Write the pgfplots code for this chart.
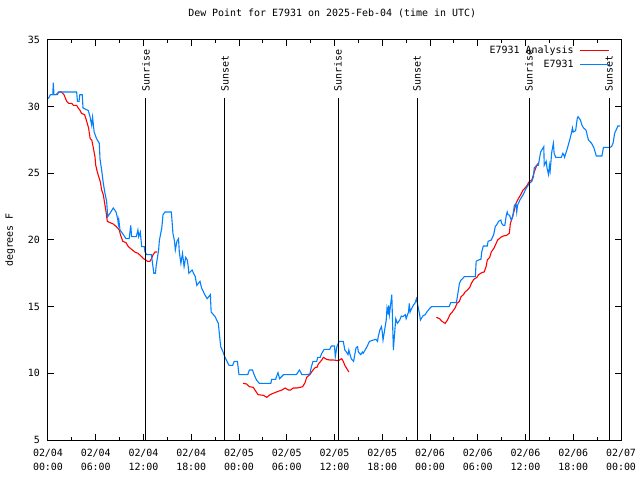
\documentclass[border=0pt]{standalone}
\usepackage{fontspec}
\setmainfont{DejaVu Sans Mono}
\usepackage{pgfplots}
\pgfplotsset{compat=1.18}
\definecolor{anared}{RGB}{255,0,0}
\definecolor{obsblue}{RGB}{0,128,255}

\begin{document}
\fontsize{10}{12}\selectfont
\begin{tikzpicture}
\useasboundingbox (-48bp,-40bp) rectangle (592bp,440bp);
\begin{axis}[
    at={(0,0)}, anchor=south west,
    scale only axis, width=573bp, height=400bp,
    xmin=0, xmax=72, ymin=5, ymax=35,
    unbounded coords=jump,
    xtick={0,6,...,72}, minor x tick num=1,
    ytick={5,10,...,35},
    xticklabels={{02/04\\00:00},{02/04\\06:00},{02/04\\12:00},{02/04\\18:00},
                 {02/05\\00:00},{02/05\\06:00},{02/05\\12:00},{02/05\\18:00},
                 {02/06\\00:00},{02/06\\06:00},{02/06\\12:00},{02/06\\18:00},
                 {02/07\\00:00}},
    xticklabel style={align=center, anchor=north, inner sep=0pt, yshift=-9bp,
                      font=\fontsize{10}{14}\selectfont},
    yticklabel style={anchor=east, inner sep=0pt, xshift=-8bp},
    /pgf/number format/assume math mode=true,
    major tick length=6bp, minor tick length=3bp,
    axis line style={line width=1bp},
    every tick/.style={black, line width=1bp},
    title={Dew Point for E7931 on 2025-Feb-04 (time in UTC)},
    title style={at={(axis description cs:0.496,1)}, anchor=center, yshift=21bp, inner sep=0pt},
    ylabel={degrees F},
    every axis y label/.style={at={(axis description cs:-0.066,0.5)}, anchor=center, rotate=90, inner sep=0pt},
    legend style={at={(axis description cs:0.980,0.990)}, anchor=north east,
                  draw=none, fill=none, inner sep=0pt, row sep=1bp, column sep=4bp},
    legend cell align=right, legend plot pos=right,
    legend image code/.code={\draw[mark repeat=2,mark phase=2,#1]
        plot coordinates {(0bp,0bp) (14.3bp,0bp) (28.6bp,0bp)};},
]

% analysis (three segments)
\addplot[anared, line width=1.1bp] coordinates {
 (0.3,30.9) (1.0,30.9) (1.2,31.0) (1.42,31.1) (1.7,31.1) (2.0,30.9) (2.35,30.4) (2.6,30.25)
 (2.97,30.25) (3.2,30.1) (3.6,30.1) (3.8,29.9) (4.0,29.75) (4.2,29.5) (4.6,29.4) (4.86,28.9)
 (5.1,28.4) (5.3,27.6) (5.5,27.5) (5.7,26.9) (5.9,26.25) (6.0,25.6) (6.2,25.1) (6.45,24.6)
 (6.6,24.3) (6.74,23.75) (6.95,23.4) (7.08,22.9) (7.3,22.1) (7.45,21.4) (7.8,21.3) (8.2,21.2)
 (8.6,21.0) (8.96,20.75) (9.1,20.4) (9.4,19.9) (9.8,19.8) (10.1,19.5) (10.5,19.3) (10.9,19.1)
 (11.3,19.0) (11.77,18.75) (12.0,18.6) (12.3,18.5) (12.5,18.4) (12.8,18.4) (13.0,18.6)
 (13.2,18.9) (13.45,19.1) (13.7,19.1)
 (13.8,nan)
 (24.5,9.25) (24.96,9.2) (25.3,9.0) (25.8,8.95) (26.0,8.75) (26.4,8.4) (27.06,8.35) (27.5,8.2)
 (27.9,8.4) (28.3,8.5) (28.7,8.6) (29.4,8.75) (29.8,8.9) (30.2,8.75) (30.5,8.75) (30.8,8.9)
 (31.25,8.9) (31.7,8.95) (32.0,9.0) (32.3,9.3) (32.5,9.7) (32.9,9.9) (33.3,10.25) (33.6,10.45)
 (33.8,10.45) (33.97,10.7) (34.4,11.0) (34.6,11.2) (35.0,11.05) (35.4,11.0) (35.85,11.0)
 (36.5,10.95) (36.9,11.1) (37.1,10.9) (37.3,10.6) (37.5,10.4) (37.8,10.1)
 (38.0,nan)
 (48.8,14.2) (49.2,14.1) (49.5,13.9) (49.9,13.75) (50.2,14.0) (50.5,14.4) (50.8,14.6)
 (51.15,14.9) (51.4,15.25) (51.7,15.4) (51.9,15.75) (52.2,15.9) (52.4,16.1) (52.7,16.25)
 (53.0,16.45) (53.2,16.75) (53.5,17.05) (53.9,17.2) (54.1,17.4) (54.5,17.55) (54.8,17.6)
 (55.05,18.0) (55.2,18.5) (55.5,18.7) (55.7,19.1) (56.05,19.4) (56.2,19.6) (56.5,20.0)
 (56.7,20.1) (56.9,20.2) (57.2,20.3) (57.6,20.35) (57.97,20.5) (58.1,21.25) (58.3,21.6)
 (58.6,22.25) (58.8,22.75) (59.1,23.1) (59.4,23.4) (59.7,23.75) (60.1,24.0) (60.5,24.4)
 (60.8,24.5) (61.1,25.1) (61.35,25.5) (61.5,25.7) (61.7,25.7)
};
\addlegendentry{E7931 Analysis}

% observations
\addplot[obsblue, line width=1.1bp] coordinates {
 (0.04,30.6) (0.3,30.9) (0.6,30.9) (0.67,31.8) (0.75,30.9) (1.2,30.9) (1.3,31.1) (3.6,31.1)
 (3.7,30.4) (3.9,30.4) (4.0,30.9) (4.3,30.9) (4.4,29.9) (5.07,29.7) (5.28,29.25) (5.49,28.6)
 (5.6,29.2) (5.8,28.1) (6.1,27.6) (6.45,27.25) (6.53,26.1) (6.74,25.25) (6.95,24.25) (7.16,23.5)
 (7.37,22.9) (7.5,21.75) (7.79,22.0) (8.2,22.4) (8.55,22.1) (8.75,21.6) (8.84,21.2) (8.9,21.5)
 (9.05,20.75) (9.47,20.4) (9.8,20.1) (10.2,20.1) (10.4,21.1) (10.5,20.25) (11.1,20.25)
 (11.3,20.75) (11.4,20.25) (11.6,20.6) (11.77,19.5) (12.1,19.5) (12.19,19.1) (12.4,18.9)
 (13.0,18.9) (13.1,18.4) (13.3,17.5) (13.5,17.5) (13.6,18.1) (13.9,19.25) (14.0,20.0)
 (14.3,20.9) (14.45,21.9) (14.7,22.1) (15.5,22.1) (15.7,20.5) (15.9,19.9) (16.0,19.25)
 (16.2,19.9) (16.4,20.1) (16.5,19.1) (16.7,18.25) (16.9,19.0) (17.1,18.0) (17.3,18.7)
 (17.5,18.5) (17.6,18.1) (17.7,17.5) (18.1,17.75) (18.5,17.25) (18.7,16.6) (19.1,16.9)
 (19.3,16.4) (19.7,15.9) (20.0,15.6) (20.4,15.9) (20.5,14.6) (21.0,14.25) (21.4,13.75)
 (21.7,12.0) (22.0,11.6) (22.2,11.25) (22.4,11.0) (22.75,10.6) (23.2,10.6) (23.4,10.9)
 (23.8,10.9) (24.0,9.9) (25.1,9.9) (25.3,10.25) (25.7,10.25) (25.9,9.9) (26.2,9.5)
 (26.55,9.25) (28.0,9.25) (28.1,9.55) (28.6,9.55) (28.8,9.9) (28.9,10.05) (29.1,9.6)
 (29.6,9.9) (31.2,9.9) (31.6,10.25) (31.9,9.9) (32.5,9.9) (32.9,9.95) (33.1,10.5) (33.3,10.9)
 (33.76,10.9) (33.9,11.2) (34.2,11.2) (34.4,11.5) (34.7,11.8) (35.4,11.8) (35.6,12.05)
 (36.0,12.05) (36.1,11.25) (36.3,12.0) (36.6,12.4) (37.1,12.4) (37.3,11.75) (37.5,11.6)
 (37.7,11.4) (37.8,11.75) (38.1,11.1) (38.4,10.9) (38.7,11.9) (38.9,12.0) (39.0,11.6)
 (39.3,11.4) (39.5,11.6) (39.6,11.5) (40.0,11.9) (40.4,12.4) (40.9,12.5) (41.2,12.55)
 (41.4,12.4) (41.5,12.75) (41.7,13.25) (41.9,13.5) (42.0,13.1) (42.1,12.5) (42.5,14.0)
 (42.6,14.9) (42.7,14.6) (42.75,14.4) (42.8,15.1) (42.9,14.4) (43.2,15.9) (43.3,13.75)
 (43.4,11.75) (43.5,12.6) (43.7,14.1) (43.9,13.75) (44.2,14.0) (44.4,14.3) (44.6,14.25)
 (44.9,14.4) (45.0,14.1) (45.3,14.6) (45.4,15.25) (45.5,14.6) (45.6,14.75) (45.9,15.1)
 (46.1,15.25) (46.3,15.6) (46.5,15.0) (46.7,14.4) (46.8,14.0) (47.1,14.3) (47.4,14.4)
 (47.6,14.6) (47.8,14.75) (48.0,14.9) (48.2,15.0) (50.4,15.0) (50.6,15.3) (51.3,15.3)
 (51.4,15.6) (51.7,16.75) (51.9,17.0) (52.1,17.1) (52.3,17.25) (53.7,17.25) (53.8,18.4)
 (54.1,18.5) (54.4,18.55) (54.5,19.1) (54.7,19.55) (55.2,19.55) (55.3,19.9) (55.7,20.0)
 (56.0,20.4) (56.2,21.0) (56.5,21.25) (56.6,21.4) (56.9,21.5) (57.0,21.25) (57.2,21.1)
 (57.4,21.1) (57.6,21.9) (57.7,22.1) (57.8,21.9) (58.0,21.85) (58.2,21.5) (58.4,21.75)
 (58.6,22.6) (58.8,22.7) (58.9,22.1) (59.0,22.6) (59.3,23.0) (59.7,23.4) (60.1,23.9)
 (60.5,24.25) (60.8,24.4) (61.0,24.75) (61.1,25.4) (61.4,25.6) (61.6,25.6) (61.7,25.9)
 (61.9,26.6) (62.2,26.9) (62.3,27.0) (62.35,25.6) (62.6,25.9) (62.7,25.4) (62.9,24.9)
 (63.0,25.6) (63.1,25.2) (63.2,25.9) (63.3,26.6) (63.5,27.25) (63.6,26.5) (63.8,26.2)
 (64.5,26.2) (64.7,26.5) (64.8,26.4) (64.9,26.2) (65.2,26.75) (65.6,27.6) (65.8,28.1)
 (65.9,28.4) (66.0,28.1) (66.3,28.2) (66.5,29.1) (66.6,29.25) (66.9,29.0) (67.1,28.6)
 (67.3,28.4) (67.6,28.25) (67.9,27.5) (68.3,27.25) (68.6,26.9) (68.9,26.3) (69.6,26.3)
 (69.8,26.95) (70.6,26.95) (70.8,27.0) (71.0,27.25) (71.2,28.0) (71.5,28.4) (71.6,28.55)
 (71.9,28.55)
};
\addlegendentry{E7931}

% sunrise / sunset markers
\foreach \t/\lab in {12.31/Sunrise, 22.24/Sunset, 36.44/Sunrise, 46.37/Sunset, 60.44/Sunrise, 70.5/Sunset} {
  \edef\tmp{\noexpand\draw[black, line width=1bp] (axis cs:\t,5) -- (axis cs:\t,30.65);
    \noexpand\node[rotate=90, anchor=west, inner sep=0pt] at (axis cs:\t,31.1) {\lab};}
  \tmp
}
\end{axis}
\end{tikzpicture}
\end{document}
